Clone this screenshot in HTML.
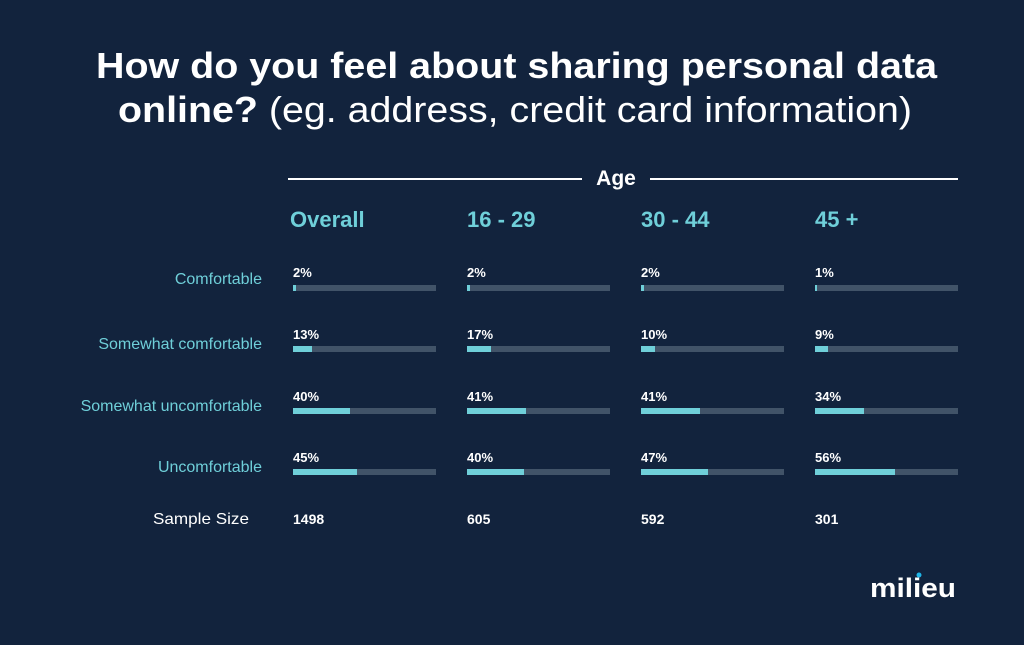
<!DOCTYPE html>
<html><head><meta charset="utf-8"><style>
html,body{margin:0;padding:0;background:#12233d;}
svg{display:block;font-family:"Liberation Sans",sans-serif;}
</style></head><body>
<svg width="1024" height="645" viewBox="0 0 1024 645">
<rect width="1024" height="645" fill="#12233d"/>
<text x="96" y="78" font-size="36" font-weight="bold" fill="#fff" textLength="841" lengthAdjust="spacingAndGlyphs">How do you feel about sharing personal data</text>
<text x="118" y="122" font-size="36" fill="#fff" textLength="794" lengthAdjust="spacingAndGlyphs"><tspan font-weight="bold">online?</tspan> (eg. address, credit card information)</text>
<line x1="288" y1="179" x2="582" y2="179" stroke="#fff" stroke-width="2"/>
<line x1="650" y1="179" x2="958" y2="179" stroke="#fff" stroke-width="2"/>
<text x="616" y="185" font-size="21" font-weight="bold" fill="#fff" text-anchor="middle">Age</text>
<g font-size="22" fill="#6fcfd9" font-weight="bold">
<text x="290" y="227">Overall</text><text x="467" y="227">16 - 29</text><text x="641" y="227">30 - 44</text><text x="815" y="227">45 +</text>
</g>
<g font-size="16" fill="#6fcfd9" text-anchor="end">
<text x="262" y="284">Comfortable</text>
<text x="262" y="349">Somewhat comfortable</text>
<text x="262" y="411">Somewhat uncomfortable</text>
<text x="262" y="472">Uncomfortable</text>
</g>
<text x="153" y="524" font-size="16" fill="#fff" textLength="96" lengthAdjust="spacingAndGlyphs">Sample Size</text>
<g font-size="13" font-weight="bold" fill="#fff">
<g>
<text x="293" y="277">2%</text><rect x="293" y="285" width="143" height="6" fill="#415368"/><rect x="293" y="285" width="3" height="6" fill="#6fcfd9"/>
<text x="467" y="277">2%</text><rect x="467" y="285" width="143" height="6" fill="#415368"/><rect x="467" y="285" width="3" height="6" fill="#6fcfd9"/>
<text x="641" y="277">2%</text><rect x="641" y="285" width="143" height="6" fill="#415368"/><rect x="641" y="285" width="3" height="6" fill="#6fcfd9"/>
<text x="815" y="277">1%</text><rect x="815" y="285" width="143" height="6" fill="#415368"/><rect x="815" y="285" width="2" height="6" fill="#6fcfd9"/>
</g>
<g>
<text x="293" y="339">13%</text><rect x="293" y="346" width="143" height="6" fill="#415368"/><rect x="293" y="346" width="19" height="6" fill="#6fcfd9"/>
<text x="467" y="339">17%</text><rect x="467" y="346" width="143" height="6" fill="#415368"/><rect x="467" y="346" width="24" height="6" fill="#6fcfd9"/>
<text x="641" y="339">10%</text><rect x="641" y="346" width="143" height="6" fill="#415368"/><rect x="641" y="346" width="14" height="6" fill="#6fcfd9"/>
<text x="815" y="339">9%</text><rect x="815" y="346" width="143" height="6" fill="#415368"/><rect x="815" y="346" width="13" height="6" fill="#6fcfd9"/>
</g>
<g>
<text x="293" y="401">40%</text><rect x="293" y="408" width="143" height="6" fill="#415368"/><rect x="293" y="408" width="57" height="6" fill="#6fcfd9"/>
<text x="467" y="401">41%</text><rect x="467" y="408" width="143" height="6" fill="#415368"/><rect x="467" y="408" width="59" height="6" fill="#6fcfd9"/>
<text x="641" y="401">41%</text><rect x="641" y="408" width="143" height="6" fill="#415368"/><rect x="641" y="408" width="59" height="6" fill="#6fcfd9"/>
<text x="815" y="401">34%</text><rect x="815" y="408" width="143" height="6" fill="#415368"/><rect x="815" y="408" width="49" height="6" fill="#6fcfd9"/>
</g>
<g>
<text x="293" y="462">45%</text><rect x="293" y="469" width="143" height="6" fill="#415368"/><rect x="293" y="469" width="64" height="6" fill="#6fcfd9"/>
<text x="467" y="462">40%</text><rect x="467" y="469" width="143" height="6" fill="#415368"/><rect x="467" y="469" width="57" height="6" fill="#6fcfd9"/>
<text x="641" y="462">47%</text><rect x="641" y="469" width="143" height="6" fill="#415368"/><rect x="641" y="469" width="67" height="6" fill="#6fcfd9"/>
<text x="815" y="462">56%</text><rect x="815" y="469" width="143" height="6" fill="#415368"/><rect x="815" y="469" width="80" height="6" fill="#6fcfd9"/>
</g>
<g font-size="14">
<text x="293" y="524">1498</text><text x="467" y="524">605</text><text x="641" y="524">592</text><text x="815" y="524">301</text>
</g>
</g>
<text x="870" y="597" font-size="27" font-weight="bold" fill="#fff" textLength="86" lengthAdjust="spacingAndGlyphs">milieu</text>
<circle cx="919" cy="575" r="2.5" fill="#1fb5e8"/>
</svg>
</body></html>
